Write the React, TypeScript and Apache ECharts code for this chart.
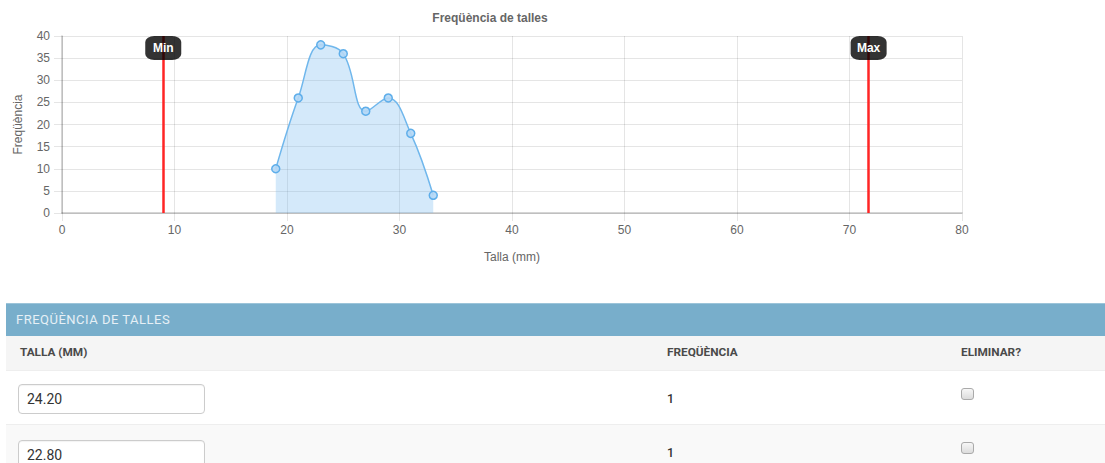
import React, { useEffect, useRef } from "react";
import * as echarts from "echarts";

const tallaValues = [19, 21, 23, 25, 27, 29, 31, 33];
const freqValues = [10, 26, 38, 36, 23, 26, 18, 4];
const minTalla = 9;
const maxTalla = 71.7;
const yMax = 40;
const tableRows = [
  { talla: "24.20", freq: "1" },
  { talla: "22.80", freq: "1" },
];

const FONT = "'Liberation Sans', Arial, Helvetica, sans-serif";

function Chart() {
  const ref = useRef<HTMLDivElement>(null);
  useEffect(() => {
    if (!ref.current) return;
    const chart = echarts.init(ref.current, undefined, { renderer: "svg" });
    const gridColor = "rgba(0,0,0,0.1)";
    const axisColor = "rgba(0,0,0,0.22)";
    const marker = (x: number, name: string) => ({
      coord: [x, yMax],
      name,
      value: name,
    });
    chart.setOption({
      animation: false,
      textStyle: { fontFamily: FONT },
      title: {
        text: "Freqüència de talles",
        left: "center",
        top: 7,
        textStyle: { fontSize: 12, fontWeight: "bold", color: "#666", fontFamily: FONT },
      },
      grid: { left: 62, top: 36, width: 900, height: 177 },
      xAxis: {
        type: "value",
        min: 0,
        max: 80,
        interval: 10,
        name: "Talla (mm)",
        nameLocation: "middle",
        nameGap: 38,
        nameTextStyle: { fontSize: 12, color: "#666", fontFamily: FONT },
        axisLine: { show: true, lineStyle: { color: axisColor, width: 1.5 } },
        axisTick: { show: true, length: 8, lineStyle: { color: gridColor } },
        axisLabel: { fontSize: 12, color: "#666", margin: 11, fontFamily: FONT },
        splitLine: { show: true, lineStyle: { color: gridColor } },
      },
      yAxis: {
        type: "value",
        min: 0,
        max: yMax,
        interval: 5,
        name: "Freqüència",
        nameLocation: "middle",
        nameGap: 38,
        nameTextStyle: { fontSize: 12, color: "#666", fontFamily: FONT },
        axisLine: { show: true, lineStyle: { color: axisColor, width: 1.5 } },
        axisTick: { show: true, length: 8, lineStyle: { color: gridColor } },
        axisLabel: { fontSize: 12, color: "#666", margin: 12, fontFamily: FONT },
        splitLine: { show: true, lineStyle: { color: gridColor } },
      },
      series: [
        {
          type: "line",
          data: tallaValues.map((t, i) => [t, freqValues[i]]),
          smooth: 0.4,
          symbol: "circle",
          symbolSize: 8,
          showSymbol: true,
          lineStyle: { color: "#70b7ec", width: 1.5 },
          itemStyle: { color: "rgba(180,215,245,0.9)", borderColor: "#5eaeea", borderWidth: 1.5 },
          areaStyle: { color: "rgba(120,188,238,0.32)", opacity: 1 },
          markLine: {
            silent: true,
            symbol: "none",
            animation: false,
            label: { show: false },
            lineStyle: { color: "#ff2525", width: 2.5, type: "solid" },
            data: [
              [{ coord: [minTalla, 0] }, { coord: [minTalla, yMax] }],
              [{ coord: [maxTalla, 0] }, { coord: [maxTalla, yMax] }],
            ],
          },
          markPoint: {
            silent: true,
            symbol: "roundRect",
            symbolSize: [36, 24],
            symbolOffset: [0, 12],
            itemStyle: { color: "rgba(0,0,0,0.8)" },
            label: {
              show: true,
              position: "inside",
              formatter: "{b}",
              color: "#fff",
              fontWeight: "bold",
              fontSize: 12,
              fontFamily: FONT,
            },
            data: [marker(minTalla, "Min"), marker(maxTalla, "Max")],
          },
        },
      ],
    });
    return () => chart.dispose();
  }, []);
  return <div ref={ref} style={{ position: "absolute", left: 0, top: 0, width: 980, height: 290 }} />;
}

export default function App() {
  const tf = "Roboto, 'Noto Sans', Arial, sans-serif";
  return (
    <div
      style={{
        position: "fixed",
        left: 0,
        top: 0,
        width: 1105,
        height: 463,
        overflow: "hidden",
        background: "#fff",
        fontFamily: tf,
      }}
    >
      <Chart />
      <div
        style={{
          position: "absolute",
          left: 6,
          top: 303,
          width: 1099,
          height: 33,
          background: "#78aecb",
          borderTop: "1px solid #9cc4d9",
          boxSizing: "border-box",
        }}
      >
        <span
          style={{
            position: "absolute",
            left: 10,
            top: 8,
            fontSize: 13,
            color: "#e6f0f6",
            letterSpacing: 0.5,
          }}
        >
          FREQÜÈNCIA DE TALLES
        </span>
      </div>
      <div
        style={{
          position: "absolute",
          left: 6,
          top: 336,
          width: 1099,
          height: 34,
          background: "#f5f5f5",
          fontSize: 11.8,
          fontWeight: "bold",
          color: "#4a4a4a",
        }}
      >
        <span style={{ position: "absolute", left: 14, top: 9 }}>TALLA (MM)</span>
        <span style={{ position: "absolute", left: 661, top: 9 }}>FREQÜÈNCIA</span>
        <span style={{ position: "absolute", left: 955, top: 9 }}>ELIMINAR?</span>
      </div>
      {tableRows.map((r, i) => (
        <div
          key={i}
          style={{
            position: "absolute",
            left: 6,
            top: 370 + i * 54,
            width: 1099,
            height: 54,
            background: i % 2 === 0 ? "#fff" : "#f9f9f9",
            borderTop: "1px solid #eee",
            boxSizing: "border-box",
          }}
        >
          <input
            readOnly
            value={r.talla}
            style={{
              position: "absolute",
              left: 12,
              top: 13 + i * 2,
              width: 187,
              height: 30,
              boxSizing: "border-box",
              border: "1px solid #ccc",
              borderRadius: 4,
              padding: "0 8px",
              fontSize: 14,
              color: "#333",
              fontFamily: tf,
              background: "#fff",
              boxShadow: "inset 0 1px 1px rgba(0,0,0,0.05)",
              outline: "none",
            }}
          />
          <span style={{ position: "absolute", left: 661, top: 20, fontSize: 12.5, color: "#333", fontWeight: 500 }}>
            {r.freq}
          </span>
          <span
            style={{
              position: "absolute",
              left: 955,
              top: 17,
              width: 11,
              height: 10,
              border: "1px solid #aaa",
              borderRadius: 3,
              background: "linear-gradient(#f7f7f7, #dcdcdc)",
            }}
          />
        </div>
      ))}
    </div>
  );
}
